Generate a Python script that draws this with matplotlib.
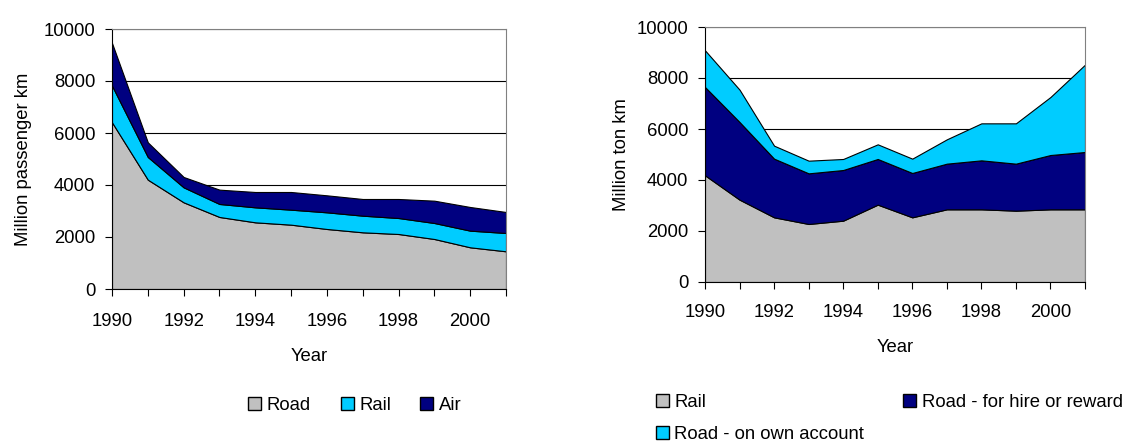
import matplotlib
matplotlib.use('Agg')
from matplotlib import pyplot as plt
from matplotlib.patches import Patch

plt.rcParams['font.family'] = ['Liberation Sans', 'DejaVu Sans']

years = list(range(1990, 2002))

# passenger transport, million passenger km
pass_road = [6410, 4205, 3333, 2770, 2564, 2474, 2308, 2180, 2115, 1923, 1603, 1450]
pass_rail = [1410, 872, 577, 500, 577, 577, 641, 640, 615, 615, 641, 704]
pass_air = [1642, 564, 398, 551, 590, 680, 654, 642, 732, 859, 910, 808]

# freight transport, million ton km
frt_rail = [4183, 3229, 2536, 2275, 2405, 3033, 2536, 2850, 2850, 2797, 2850, 2850]
frt_hire = [3464, 3046, 2301, 1986, 1987, 1791, 1739, 1791, 1921, 1844, 2130, 2248]
frt_own = [1438, 1267, 509, 497, 432, 575, 562, 954, 1451, 1581, 2275, 3425]

GRAY = '#C0C0C0'
CYAN = '#00CCFF'
NAVY = '#000080'
FS = 13.3

fig = plt.figure(figsize=(11.32, 4.43), dpi=100)
ax1 = fig.add_axes([112 / 1132, 1 - 289 / 443, 394 / 1132, 260 / 443])
ax2 = fig.add_axes([705 / 1132, 1 - 282 / 443, 380 / 1132, 255 / 443])


def style_axes(ax, ylabel, xlab_pad, ylab_pad, xpad):
    ax.set_xlim(1990, 2001)
    ax.set_ylim(0, 10000)
    ax.set_yticks(range(0, 10001, 2000))
    ax.set_xticks(years)
    ax.set_xticklabels([str(y) if y % 2 == 0 else '' for y in years])
    ax.yaxis.grid(True, color='black', linewidth=0.8)
    ax.set_axisbelow(True)
    ax.tick_params(labelsize=FS, direction='out', length=5, color='black')
    ax.tick_params(axis='x', pad=xpad)
    ax.tick_params(axis='y', pad=7)
    for s in ['top', 'right']:
        ax.spines[s].set_color('#808080')
    for s in ['left', 'bottom']:
        ax.spines[s].set_color('black')
    ax.set_xlabel('Year', fontsize=FS, labelpad=xlab_pad)
    ax.set_ylabel(ylabel, fontsize=FS, labelpad=ylab_pad)


ax1.stackplot(years, pass_road, pass_rail, pass_air, colors=[GRAY, CYAN, NAVY],
              edgecolor='black', linewidth=0.8)
style_axes(ax1, 'Million passenger km', 13, 8, 12)

ax2.stackplot(years, frt_rail, frt_hire, frt_own, colors=[GRAY, NAVY, CYAN],
              edgecolor='black', linewidth=0.8)
style_axes(ax2, 'Million ton km', 13, 5, 11)

h1 = [Patch(facecolor=GRAY, edgecolor='black', label='Road'),
      Patch(facecolor=CYAN, edgecolor='black', label='Rail'),
      Patch(facecolor=NAVY, edgecolor='black', label='Air')]
fig.legend(handles=h1, loc='center', bbox_to_anchor=(355 / 1132, 1 - 405 / 443), ncol=3,
           frameon=False, fontsize=FS, handlelength=0.7, handleheight=0.7,
           handletextpad=0.3, columnspacing=1.6)

h2 = [Patch(facecolor=GRAY, edgecolor='black', label='Rail'),
      Patch(facecolor=CYAN, edgecolor='black', label='Road - on own account'),
      Patch(facecolor=NAVY, edgecolor='black', label='Road - for hire or reward')]
fig.legend(handles=h2, loc='upper left', bbox_to_anchor=(656 / 1132, 1 - 394 / 443), ncol=2,
           frameon=False, fontsize=FS, handlelength=0.7, handleheight=0.7,
           handletextpad=0.3, columnspacing=2.1, labelspacing=0.8,
           borderaxespad=0, borderpad=0)

plt.savefig('out.png', dpi=100)
plt.close()
